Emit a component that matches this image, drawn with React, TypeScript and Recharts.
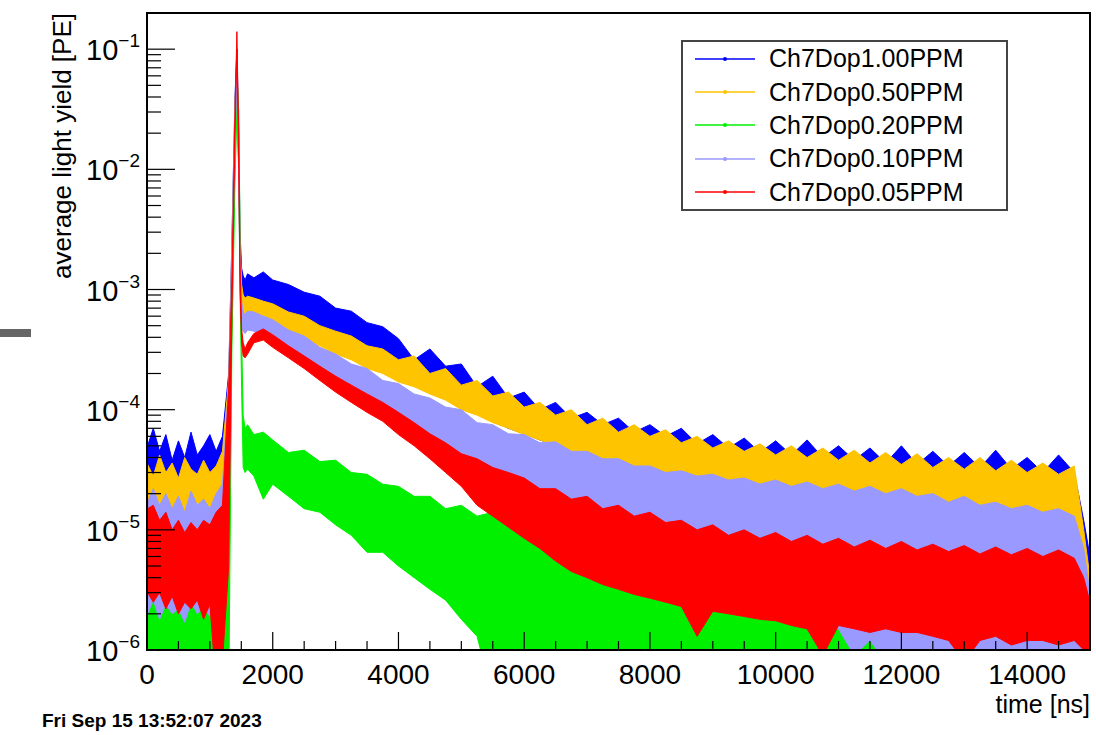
import React from 'react';
import { ComposedChart, Area, XAxis, YAxis, Legend } from 'recharts';

// time bins [ns]
const T = [
  0, 10, 100, 200, 300, 400, 500, 600, 700, 800, 900, 1000, 1100, 1200,
  1300, 1350, 1400, 1430, 1460, 1480, 1505, 1530, 1560, 1600,
  1700, 1850,
  2000, 2250, 2500, 2750, 3000, 3250, 3500, 3750, 4000, 4250, 4500, 4750,
  5000, 5250, 5500, 5750, 6000, 6250, 6500, 6750, 7000, 7250, 7500, 7750,
  8000, 8250, 8500, 8750, 9000, 9250, 9500, 9750, 10000, 10250, 10500, 10750,
  11000, 11250, 11500, 11750, 12000, 12250, 12500, 12750, 13000, 13250, 13500, 13750,
  14000, 14250, 14500, 14750,
  14900, 15000,
];

// upper / lower edge of the noise band of each histogram [PE]
const blueHi = [
  6e-5, 5e-5, 7e-5, 4.5e-5, 6.2e-5, 3.8e-5, 5.5e-5, 4e-5, 6.5e-5, 4.2e-5, 5e-5, 6.2e-5, 4.5e-5, 6e-5,
  2e-4, 2.5e-3, 4e-2, 0.1, 2e-2, 3e-3, 1.5e-3, 1.3e-3, 1.2e-3, 1.35e-3,
  1.25e-3, 1.4e-3,
  1.2e-3, 1.1e-3, 9.5e-4, 8.8e-4, 7e-4, 6.6e-4, 5.3e-4, 4.9e-4, 3.9e-4, 2.6e-4, 3.2e-4, 2.3e-4,
  2.4e-4, 1.55e-4, 1.9e-4, 1.25e-4, 1.4e-4, 1e-4, 1.15e-4, 8.5e-5, 9.5e-5, 7.5e-5, 8.5e-5, 6.5e-5,
  7.5e-5, 6e-5, 7e-5, 5.2e-5, 6.2e-5, 4.8e-5, 5.8e-5, 4.4e-5, 5.5e-5, 4.2e-5, 5.6e-5, 4e-5,
  5e-5, 3.8e-5, 4.8e-5, 3.6e-5, 5e-5, 3.5e-5, 4.5e-5, 3.4e-5, 4.4e-5, 3.3e-5, 4.6e-5, 3.2e-5,
  4e-5, 3e-5, 4.2e-5, 3e-5,
  1.2e-5, 6e-6,
];
const blueLo = [
  2.5e-5, 2.2e-5, 2e-5, 2.4e-5, 1.8e-5, 2.2e-5, 2e-5, 2.5e-5, 1.9e-5, 2.2e-5, 2e-5, 2.3e-5, 2.4e-5, 2.6e-5,
  2.5e-5, 1.5e-3, 2.5e-2, 6e-2, 1e-2, 1.5e-3, 9e-4, 8e-4, 7.5e-4, 8e-4,
  7.5e-4, 7.5e-4,
  7e-4, 6.2e-4, 5.2e-4, 4.5e-4, 3.8e-4, 3.3e-4, 2.8e-4, 2.4e-4, 2e-4, 1.7e-4, 1.45e-4, 1.25e-4,
  1.1e-4, 9.5e-5, 8e-5, 7e-5, 6.3e-5, 5.6e-5, 5e-5, 4.6e-5, 4e-5, 3.7e-5, 3.4e-5, 3.2e-5,
  2.9e-5, 2.7e-5, 2.5e-5, 2.4e-5, 2.3e-5, 2.2e-5, 2.1e-5, 2e-5, 1.9e-5, 1.9e-5, 1.8e-5, 1.8e-5,
  1.7e-5, 1.7e-5, 1.6e-5, 1.6e-5, 1.55e-5, 1.5e-5, 1.5e-5, 1.45e-5, 1.4e-5, 1.4e-5, 1.35e-5, 1.35e-5,
  1.3e-5, 1.3e-5, 1.25e-5, 1.2e-5,
  4e-6, 2.5e-6,
];
const yellowHi = [
  3e-5, 3.5e-5, 2.8e-5, 4.2e-5, 3e-5, 3.6e-5, 2.7e-5, 4e-5, 3.2e-5, 2.9e-5, 3.8e-5, 3e-5, 3.4e-5, 4.5e-5,
  1.8e-4, 2.2e-3, 3.5e-2, 9e-2, 1.8e-2, 2.5e-3, 1.1e-3, 9e-4, 8.5e-4, 8.8e-4,
  8.5e-4, 8e-4,
  7.6e-4, 6.5e-4, 6e-4, 5e-4, 4.5e-4, 4.1e-4, 3.4e-4, 3.2e-4, 2.6e-4, 2.8e-4, 2e-4, 2.2e-4,
  1.6e-4, 1.75e-4, 1.3e-4, 1.4e-4, 1.05e-4, 1.15e-4, 9e-5, 1e-4, 7.5e-5, 8.5e-5, 6.5e-5, 7.5e-5,
  6e-5, 6.8e-5, 5.3e-5, 6e-5, 4.8e-5, 5.5e-5, 4.5e-5, 5.2e-5, 4.2e-5, 5e-5, 4e-5, 4.8e-5,
  3.8e-5, 4.6e-5, 3.6e-5, 4.4e-5, 3.5e-5, 4.3e-5, 3.3e-5, 4e-5, 3.2e-5, 4e-5, 3.1e-5, 3.8e-5,
  3e-5, 3.6e-5, 2.9e-5, 3.4e-5,
  1e-5, 4e-6,
];
const yellowLo = [
  1.8e-5, 1.5e-5, 8e-6, 1.6e-5, 1.4e-5, 5e-6, 1.7e-5, 1.3e-5, 1.6e-5, 6e-6, 1.5e-5, 1.4e-5, 1.7e-5, 2e-5,
  1.5e-5, 1.2e-3, 2e-2, 5e-2, 9e-3, 1.2e-3, 7e-4, 6.2e-4, 6e-4, 6.3e-4,
  6e-4, 5.6e-4,
  5e-4, 4.4e-4, 3.8e-4, 3.4e-4, 2.9e-4, 2.6e-4, 2.2e-4, 2e-4, 1.7e-4, 1.55e-4, 1.35e-4, 1.2e-4,
  1e-4, 9e-5, 7.8e-5, 7e-5, 6.2e-5, 5.6e-5, 5e-5, 4.5e-5, 4e-5, 3.7e-5, 3.3e-5, 3.1e-5,
  2.8e-5, 2.6e-5, 2.4e-5, 2.3e-5, 2.1e-5, 2e-5, 1.9e-5, 1.8e-5, 1.7e-5, 1.65e-5, 1.6e-5, 1.55e-5,
  1.5e-5, 1.45e-5, 1.4e-5, 1.35e-5, 1.3e-5, 1.3e-5, 1.25e-5, 1.2e-5, 1.2e-5, 1.15e-5, 1.1e-5, 1.1e-5,
  1.05e-5, 1e-5, 1e-5, 9.5e-6,
  3e-6, 1.5e-6,
];
const greenHi = [
  3.2e-6, 2.6e-6, 3.4e-6, 2.4e-6, 3e-6, 2.2e-6, 3.3e-6, 2.5e-6, 2.9e-6, 2.2e-6, 3.1e-6, 2.4e-6, 2.8e-6, 3.5e-6,
  5e-5, 8e-4, 1.5e-2, 6e-2, 3e-2, 3e-3, 4e-4, 9e-5, 7e-5, 7.5e-5,
  6.2e-5, 6.5e-5,
  5.6e-5, 4.4e-5, 4.6e-5, 3.7e-5, 3.8e-5, 3e-5, 2.9e-5, 2.4e-5, 2.3e-5, 1.9e-5, 1.9e-5, 1.5e-5,
  1.6e-5, 1.3e-5, 1.4e-5, 1.1e-5, 1.15e-5, 9e-6, 9.5e-6, 7.5e-6, 7.5e-6, 6e-6, 6e-6, 4.8e-6,
  4.8e-6, 3.8e-6, 3.8e-6, 3.1e-6, 3.2e-6, 2.6e-6, 2.6e-6, 2.2e-6, 2.2e-6, 1.8e-6, 1.9e-6, 1.5e-6,
  1.5e-6, 1.3e-6, 1.3e-6, 1.15e-6, 1.2e-6, 1.05e-6, 1.1e-6, 9.5e-7, 1.1e-6, 9.5e-7, 1.05e-6, 9e-7,
  1e-6, 9e-7, 9e-7, 8e-7,
  5e-7, 4e-7,
];
const greenLo = [
  4e-7, 4e-7, 4e-7, 4e-7, 4e-7, 4e-7, 4e-7, 4e-7, 4e-7, 4e-7, 4e-7, 4e-7, 4e-7, 4e-7,
  4e-7, 3e-4, 8e-3, 3e-2, 1e-2, 1e-3, 1.5e-4, 3.3e-5, 3e-5, 3.2e-5,
  2.8e-5, 1.8e-5,
  2.4e-5, 1.9e-5, 1.5e-5, 1.4e-5, 1.1e-5, 9e-6, 6.5e-6, 6.5e-6, 5e-6, 4e-6, 3.2e-6, 2.6e-6,
  1.8e-6, 1.3e-6, 4e-7, 4e-7, 4e-7, 4e-7, 4e-7, 4e-7, 4e-7, 4e-7, 4e-7, 4e-7,
  4e-7, 4e-7, 4e-7, 4e-7, 4e-7, 4e-7, 4e-7, 4e-7, 4e-7, 4e-7, 4e-7, 4e-7,
  4e-7, 4e-7, 4e-7, 4e-7, 4e-7, 4e-7, 4e-7, 4e-7, 4e-7, 4e-7, 4e-7, 4e-7,
  4e-7, 4e-7, 4e-7, 4e-7,
  4e-7, 4e-7,
];
const lavHi = [
  2e-5, 1.7e-5, 2.2e-5, 1.6e-5, 2e-5, 1.5e-5, 1.9e-5, 1.4e-5, 2.1e-5, 1.6e-5, 1.8e-5, 1.5e-5, 2e-5, 2.4e-5,
  1.6e-4, 2e-3, 3e-2, 8e-2, 1.5e-2, 2e-3, 8e-4, 6.5e-4, 6.2e-4, 6.6e-4,
  6.5e-4, 6e-4,
  5.6e-4, 4.6e-4, 4.1e-4, 3.3e-4, 2.9e-4, 2.4e-4, 2.2e-4, 1.75e-4, 1.65e-4, 1.35e-4, 1.25e-4, 1.05e-4,
  1e-4, 7.8e-5, 7.5e-5, 6.3e-5, 6.2e-5, 5.3e-5, 5.4e-5, 4.5e-5, 4.5e-5, 3.9e-5, 3.9e-5, 3.4e-5,
  3.4e-5, 3e-5, 3.1e-5, 2.8e-5, 2.9e-5, 2.6e-5, 2.7e-5, 2.4e-5, 2.6e-5, 2.3e-5, 2.5e-5, 2.2e-5,
  2.4e-5, 2.1e-5, 2.3e-5, 2e-5, 2.2e-5, 1.9e-5, 2e-5, 1.7e-5, 1.9e-5, 1.6e-5, 1.7e-5, 1.5e-5,
  1.6e-5, 1.4e-5, 1.5e-5, 1.3e-5,
  7e-6, 3e-6,
];
const lavLo = [
  2.5e-6, 2e-6, 2.6e-6, 1.8e-6, 2.4e-6, 2e-6, 2.2e-6, 1.7e-6, 2.5e-6, 2e-6, 2.3e-6, 1.9e-6, 2.2e-6, 2.6e-6,
  5e-6, 1e-3, 1.8e-2, 5e-2, 8e-3, 1e-3, 5e-4, 4.5e-4, 4.3e-4, 4.6e-4,
  4.5e-4, 4.2e-4,
  3.6e-4, 3.1e-4, 2.6e-4, 2.2e-4, 1.8e-4, 1.5e-4, 1.3e-4, 1.1e-4, 9e-5, 7.5e-5, 6e-5, 4.8e-5,
  3.6e-5, 2.5e-5, 1.6e-5, 1.2e-5, 9e-6, 7.5e-6, 6.3e-6, 5.2e-6, 4.5e-6, 4e-6, 3.6e-6, 3.3e-6,
  3.2e-6, 3e-6, 2.9e-6, 2.6e-6, 2.6e-6, 2.4e-6, 2.5e-6, 2.2e-6, 2.2e-6, 1.8e-6, 2e-6, 1.6e-6,
  1.5e-6, 9e-7, 1.2e-6, 8e-7, 8e-7, 7e-7, 8e-7, 7e-7, 7e-7, 7e-7, 6e-7, 7e-7,
  6e-7, 6e-7, 6e-7, 6e-7,
  5e-7, 4e-7,
];
const redHi = [
  5e-4, 1.5e-5, 1.6e-5, 1.2e-5, 1.4e-5, 1e-5, 1.2e-5, 9.5e-6, 1.15e-5, 1e-5, 1.2e-5, 1.1e-5, 1.4e-5, 1.6e-5,
  1.6e-4, 1.2e-3, 3e-2, 0.14, 1.7e-2, 1.6e-3, 4.7e-4, 3.6e-4, 3.2e-4, 3.6e-4,
  4.3e-4, 4.7e-4,
  4.2e-4, 3.4e-4, 2.8e-4, 2.3e-4, 1.9e-4, 1.6e-4, 1.35e-4, 1.15e-4, 9.5e-5, 7.8e-5, 6.3e-5, 5.3e-5,
  4.3e-5, 3.9e-5, 3.3e-5, 3e-5, 2.7e-5, 2.2e-5, 2.2e-5, 1.8e-5, 1.9e-5, 1.5e-5, 1.6e-5, 1.3e-5,
  1.4e-5, 1.15e-5, 1.2e-5, 1e-5, 1.1e-5, 9e-6, 1e-5, 8.5e-6, 9.5e-6, 8e-6, 9e-6, 7.6e-6,
  8.5e-6, 7.2e-6, 8.2e-6, 7e-6, 8e-6, 6.8e-6, 7.6e-6, 6.6e-6, 7.4e-6, 6.3e-6, 7.2e-6, 6.2e-6,
  7e-6, 6e-6, 6.8e-6, 5.8e-6,
  4e-6, 2.5e-6,
];
const redLo = [
  3e-6, 3e-6, 2.5e-6, 3e-6, 2.2e-6, 2.8e-6, 2e-6, 2.5e-6, 2.2e-6, 2.6e-6, 1.8e-6, 2.4e-6, 5e-7, 8e-7,
  5e-6, 6e-4, 2e-2, 0.1, 1e-2, 1e-3, 3.6e-4, 2.8e-4, 2.7e-4, 2.9e-4,
  3.6e-4, 3.8e-4,
  3.3e-4, 2.7e-4, 2.2e-4, 1.75e-4, 1.4e-4, 1.15e-4, 9.5e-5, 8e-5, 6.2e-5, 5e-5, 3.9e-5, 3e-5,
  2.3e-5, 1.6e-5, 1.3e-5, 1.05e-5, 8.5e-6, 7e-6, 5.5e-6, 4.5e-6, 4e-6, 3.5e-6, 3.2e-6, 2.9e-6,
  2.7e-6, 2.5e-6, 2.3e-6, 1.3e-6, 2.1e-6, 2e-6, 1.9e-6, 1.8e-6, 1.75e-6, 1.6e-6, 1.5e-6, 9e-7,
  1.6e-6, 1.5e-6, 1.4e-6, 1.5e-6, 1.4e-6, 1.4e-6, 1.3e-6, 1.2e-6, 8e-7, 1.2e-6, 1.3e-6, 1.1e-6,
  1.2e-6, 1.2e-6, 1.1e-6, 1.2e-6,
  1e-6, 8e-7,
];

const SERIES = [
  { key: 'p100', name: 'Ch7Dop1.00PPM', color: '#0000ff', lo: blueLo, hi: blueHi },
  { key: 'p050', name: 'Ch7Dop0.50PPM', color: '#ffc400', lo: yellowLo, hi: yellowHi },
  { key: 'p020', name: 'Ch7Dop0.20PPM', color: '#00f000', lo: greenLo, hi: greenHi },
  { key: 'p010', name: 'Ch7Dop0.10PPM', color: '#9999ff', lo: lavLo, hi: lavHi },
  { key: 'p005', name: 'Ch7Dop0.05PPM', color: '#ff0000', lo: redLo, hi: redHi },
];

const xTicks = [
  0, 500, 1000, 1500, 2000, 2500, 3000, 3500, 4000, 4500, 5000, 5500, 6000, 6500, 7000, 7500,
  8000, 8500, 9000, 9500, 10000, 10500, 11000, 11500, 12000, 12500, 13000, 13500, 14000, 14500, 15000,
];
const yDecades = [1e-6, 1e-5, 1e-4, 1e-3, 1e-2];
const yTicks = [...yDecades.flatMap((d) => [1, 2, 3, 4, 5, 6, 7, 8, 9].map((m) => m * d)), 0.1];

const data = T.map((t, i) => {
  const row: Record<string, any> = { t };
  SERIES.forEach((s) => {
    row[s.key] = [s.lo[i], s.hi[i]];
  });
  return row;
});

const W = 1096;
const H = 735;
const PLOT_LEFT = 147;
const PLOT_TOP = 13;
const PLOT_RIGHT = 1090;
const PLOT_BOTTOM = 650;
const FONT = '"Liberation Sans", Arial, Helvetica, sans-serif';

const XTick = (props: any) => {
  const { x, payload } = props;
  const v = payload.value;
  const major = v % 2000 === 0;
  return (
    <g>
      <line x1={x} x2={x} y1={PLOT_BOTTOM} y2={PLOT_BOTTOM - (major ? 18 : 9)} stroke="#000" strokeWidth={1.2} />
      {major && v < 15000 ? (
        <text x={x} y={684} textAnchor="middle" fontSize={28} fill="#000" fontFamily={FONT}>
          {v}
        </text>
      ) : null}
    </g>
  );
};

const YTick = (props: any) => {
  const { y, payload } = props;
  const v = payload.value;
  const e = Math.round(Math.log10(v));
  const major = Math.abs(v / Math.pow(10, e) - 1) < 1e-6;
  return (
    <g>
      <line x1={PLOT_LEFT} x2={PLOT_LEFT + (major ? 28 : 14)} y1={y} y2={y} stroke="#000" strokeWidth={1.2} />
      {major ? (
        <text x={140} y={y + 11} textAnchor="end" fontSize={29} fill="#000" fontFamily={FONT}>
          <tspan>10</tspan>
          <tspan dy={-13} fontSize={19}>{`\u2212${-e}`}</tspan>
        </text>
      ) : null}
    </g>
  );
};

const LegendBox = () => (
  <div
    style={{
      width: 327,
      height: 171,
      boxSizing: 'border-box',
      border: '2px solid #444',
      background: '#fff',
    }}
  >
    {SERIES.map((s) => (
      <div key={s.key} style={{ display: 'flex', alignItems: 'center', height: 33.4 }}>
        <svg width={86} height={20} style={{ flex: 'none' }}>
          <line x1={12} x2={72} y1={10} y2={10} stroke={s.color} strokeWidth={1.3} />
          <circle cx={42} cy={10} r={2} fill={s.color} />
        </svg>
        <span style={{ fontSize: 25, color: '#000', fontFamily: FONT, lineHeight: 1 }}>{s.name}</span>
      </div>
    ))}
  </div>
);

export default function App() {
  return (
    <div style={{ position: 'absolute', left: 0, top: 0, width: W, height: H, background: '#fff', fontFamily: FONT }}>
      <ComposedChart
        width={W}
        height={H}
        data={data}
        margin={{ top: PLOT_TOP, right: W - PLOT_RIGHT, bottom: 55, left: 87 }}
      >
        {SERIES.map((s) => (
          <Area
            key={s.key}
            name={s.name}
            type="linear"
            dataKey={s.key}
            stroke={s.color}
            strokeWidth={1}
            fill={s.color}
            fillOpacity={1}
            dot={false}
            activeDot={false}
            isAnimationActive={false}
          />
        ))}
        <XAxis
          type="number"
          dataKey="t"
          domain={[0, 15000]}
          ticks={xTicks}
          interval={0}
          height={30}
          axisLine={false}
          tickLine={false}
          tick={(p: any) => <XTick {...p} />}
        />
        <YAxis
          scale="log"
          domain={[1e-6, 0.2]}
          allowDataOverflow
          ticks={yTicks}
          interval={0}
          width={60}
          axisLine={false}
          tickLine={false}
          tick={(p: any) => <YTick {...p} />}
        />
        <Legend
          layout="vertical"
          align="center"
          verticalAlign="middle"
          wrapperStyle={{ position: 'absolute', left: 681, top: 40, width: 327, height: 171 }}
          content={() => <LegendBox />}
        />
      </ComposedChart>
      <div
        style={{
          position: 'absolute',
          left: PLOT_LEFT - 1,
          top: PLOT_TOP - 1,
          width: PLOT_RIGHT - PLOT_LEFT + 2,
          height: PLOT_BOTTOM - PLOT_TOP + 2,
          boxSizing: 'border-box',
          border: '2px solid #000',
          pointerEvents: 'none',
        }}
      />
      <svg width={W} height={H} style={{ position: 'absolute', left: 0, top: 0, pointerEvents: 'none' }}>
        <rect x={0} y={329} width={31} height={8} fill="#666" />
        <text transform="rotate(-90)" x={-13} y={71} textAnchor="end" fontSize={26} fill="#000" fontFamily={FONT}>
          average light yield [PE]
        </text>
        <text x={1090} y={713} textAnchor="end" fontSize={25} fill="#000" fontFamily={FONT}>
          time [ns]
        </text>
        <text x={42} y={727} fontSize={19} fontWeight="bold" fill="#000" fontFamily={FONT}>
          Fri Sep 15 13:52:07 2023
        </text>
      </svg>
    </div>
  );
}
